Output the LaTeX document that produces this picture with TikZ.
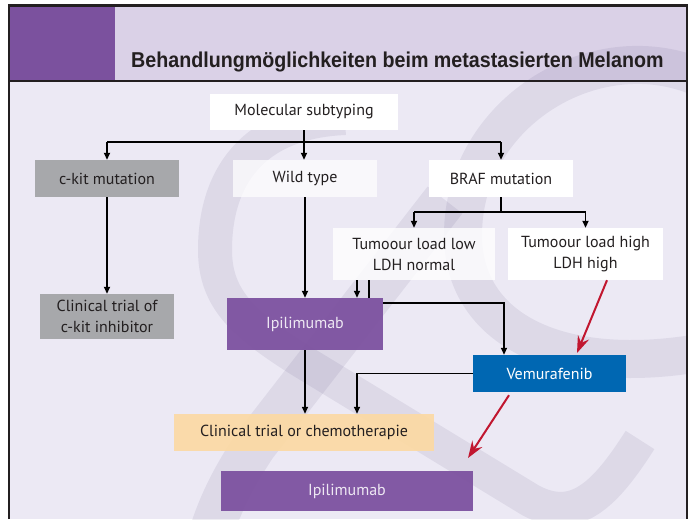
\documentclass[tikz,border=0pt]{standalone}
\usepackage{fontspec}
\usepackage{graphicx}
\setmainfont{PT Sans}
\newfontfamily\titlefont{Liberation Sans}
\usetikzlibrary{arrows.meta}
\definecolor{bg}{HTML}{ECE9F4}
\definecolor{hdr}{HTML}{DAD1E7}
\definecolor{purp}{HTML}{7B519E}
\definecolor{frame}{HTML}{231F20}
\definecolor{wm}{RGB}{70,60,110}
\definecolor{ckgrey}{HTML}{A7A8AB}
\definecolor{ipi}{HTML}{7B4F9E}
\definecolor{ipitext}{HTML}{EEE8F3}
\definecolor{vemu}{HTML}{0067B2}
\definecolor{chem}{HTML}{FDD9A0}
\definecolor{redarr}{HTML}{C1162F}
\definecolor{txt}{HTML}{231F20}
\begin{document}
\begin{tikzpicture}[x=1pt,y=-1pt,
  box/.style={rectangle, inner sep=0pt, align=center, text=txt,
    font=\fontsize{16}{21}\selectfont, text opacity=1},
  whitebox/.style={box, fill=white},
  greybox/.style={box, fill=ckgrey},
  ipibox/.style={box, fill=ipi, fill opacity=0.93, text=ipitext},
  vemubox/.style={box, fill=vemu, text=white},
  chembox/.style={box, fill=chem, fill opacity=0.88},
  wmark/.style={draw=wm, draw opacity=0.09, line cap=butt},
  ln/.style={line width=1.8pt, draw=black},
  lnthin/.style={line width=1.5pt, draw=black},
  arr/.style={ln, -{Triangle[length=7pt,width=6pt]}},
  arrthin/.style={lnthin, -{Triangle[length=7pt,width=6pt]}},
  redarrow/.style={line width=2pt, draw=redarr, -{Stealth[length=17pt,width=12pt,inset=6pt]}}
]
\useasboundingbox (0,0) rectangle (692,519);
\fill[white] (0,0) rectangle (692,519);
% frame background
\fill[bg] (9,81) rectangle (686,519);
\fill[hdr] (115,6) rectangle (686,81);
\fill[purp] (9,6) rectangle (115,81);
% watermark
\begin{scope}
\clip (9,6) rectangle (686,519);
\draw[wmark, line width=38pt] (705,80) .. controls (600,30) and (463,110) .. (463,235)
   .. controls (463,330) and (560,378) .. (705,352);
\draw[wmark, line width=34pt] (345,118) .. controls (250,122) and (215,180) .. (215,250)
   .. controls (215,300) and (245,325) .. (300,360) -- (530,500)
   .. controls (575,525) and (605,495) .. (640,440);
\draw[wmark, line width=44pt] (445,200) -- (255,445) .. controls (235,475) and (222,500) .. (212,530);
\end{scope}
% frame lines
\draw[frame, line width=2.5pt] (9,519) -- (9,5.5) -- (687,5.5) -- (687,519);
\draw[frame, line width=1.5pt] (9,81) -- (687,81);
% title
\node[anchor=base west, inner sep=0pt, text=txt,
  font=\titlefont\bfseries\fontsize{21.5}{24}\selectfont] (title) at (131,67)
  {\scalebox{0.915}[1]{Behandlungmöglichkeiten beim metastasierten Melanom}};
% nodes
\node[whitebox, minimum width=188pt, minimum height=36pt] (sub) at (304,112) {Molecular subtyping};
\node[greybox, minimum width=144pt, minimum height=37pt] (ckit) at (107,178.5) {c-kit mutation};
\node[whitebox, fill opacity=0.72, minimum width=144pt, minimum height=37pt] (wild) at (305,178.5) {Wild type};
\node[whitebox, minimum width=144pt, minimum height=37pt] (braf) at (501,178.5) {BRAF mutation};
\node[whitebox, fill opacity=0.8, minimum width=162pt, minimum height=52pt] (low) at (414,254) {Tumoour load low\\LDH normal};
\node[whitebox, minimum width=155pt, minimum height=52pt] (high) at (585.5,254) {Tumoour load high\\LDH high};
\node[greybox, minimum width=134pt, minimum height=45pt] (ckc) at (107,316.5) {Clinical trial of\\c-kit inhibitor};
\node[ipibox, minimum width=156pt, minimum height=52pt] (ipi) at (305,324) {Ipilimumab};
\node[vemubox, minimum width=153pt, minimum height=37pt] (vemu) at (549.5,373.5) {Vemurafenib};
\node[chembox, minimum width=260pt, minimum height=37pt] (chem) at (304,432.5) {Clinical trial or chemotherapie};
\node[ipibox, minimum width=252pt, minimum height=40pt] (ipib) at (347,491) {Ipilimumab};
% helper coordinates
\coordinate (r1) at (0,142);
\coordinate (r2) at (0,212);
\coordinate (r3) at (0,303);
\coordinate (xa) at (357,0);
\coordinate (xb) at (369,0);
\coordinate (xv) at (504,0);
\coordinate (xr1) at (607,0);
\coordinate (xr2) at (509,0);
\coordinate (red1end) at (577,353);
\coordinate (red2end) at (468,458);
% connectors
\draw[ln] (ckit.north |- r1) -- (braf.north |- r1);
\draw[arr] (ckit.north |- r1) -- (ckit.north);
\draw[arr] (sub.south) -- (sub.south |- wild.north);
\draw[arr] (braf.north |- r1) -- (braf.north);
\draw[ln] (braf.south) -- (braf.south |- r2);
\draw[ln] (low.north |- r2) -- (high.north |- r2);
\draw[arr] (low.north |- r2) -- (low.north);
\draw[arr] (high.north |- r2) -- (high.north);
\draw[arr] (ckit.south) -- (ckc.north);
\draw[arr] (wild.south) -- (ipi.north);
\draw[arrthin] (xa |- low.south) -- (xa |- ipi.north);
\draw[lnthin] (xb |- low.south) -- (xb |- ipi.north);
\draw[arrthin] (ipi.east |- r3) -- (xv |- r3) -- (xv |- vemu.north);
\draw[arrthin] (ipi.south) -- (ipi.south |- chem.north);
\draw[arrthin] (vemu.west) -- (xa |- vemu.west) -- (xa |- chem.north);
\draw[redarrow] (xr1 |- high.south) -- (red1end);
\draw[redarrow] (xr2 |- vemu.south) ++(0,3) -- (red2end);
\end{tikzpicture}
\end{document}
